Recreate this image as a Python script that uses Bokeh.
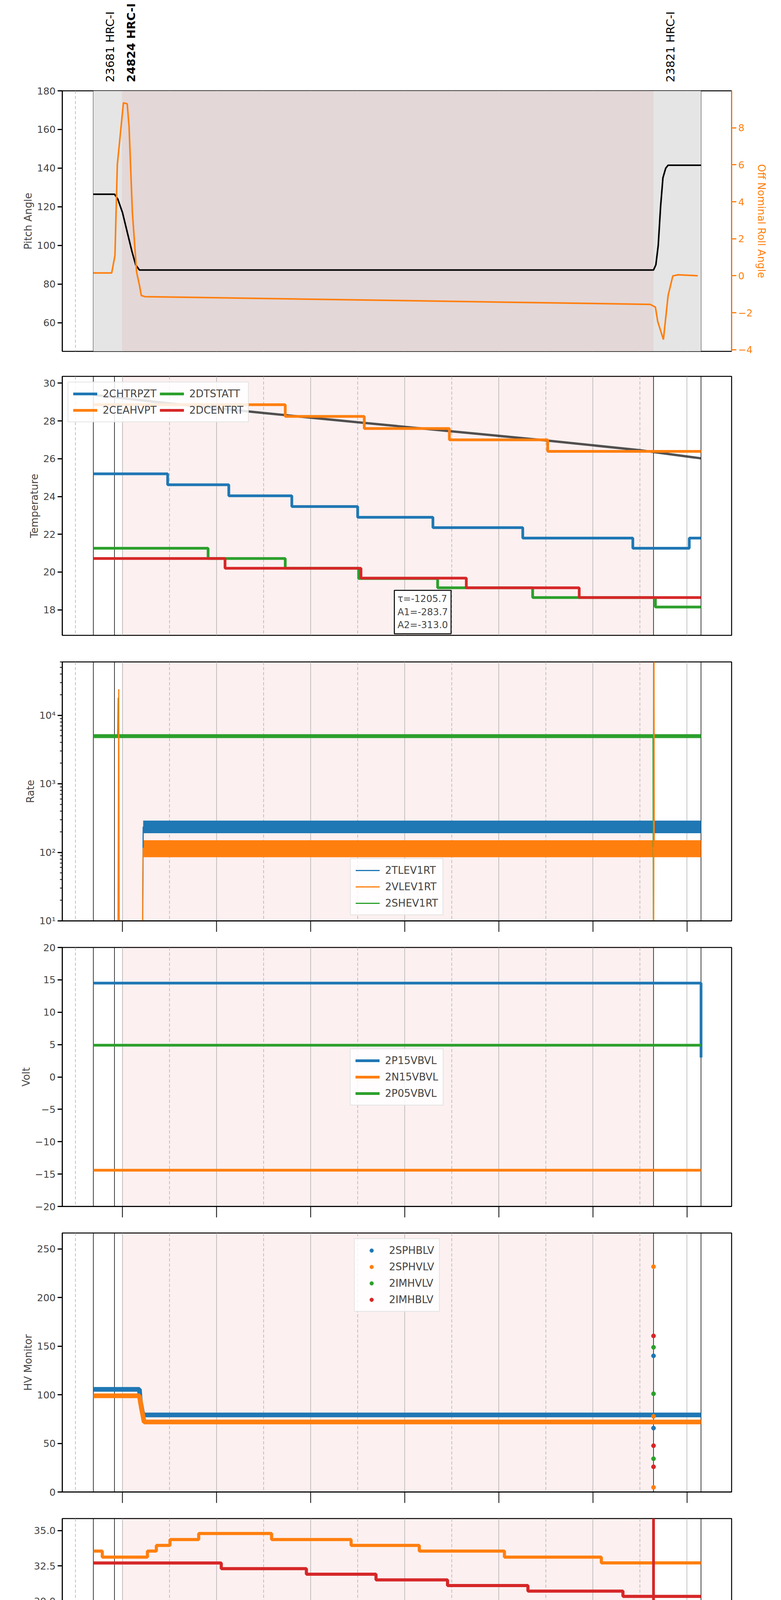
import math
from bokeh.plotting import figure
from bokeh.layouts import column
from bokeh.models import (Range1d, LinearAxis, Span, BoxAnnotation, Label, FixedTicker,
                          Legend, LegendItem)
from bokeh.core.properties import value
from bokeh.embed import file_html
from bokeh.resources import INLINE

FONT = "DejaVu Sans"
BLUE, ORANGE, GREEN, RED = "#1f77b4", "#ff7f0e", "#2ca02c", "#d62728"

# ---- time markers (hours of 2021-01-15) ----
obs_lines = [3.38, 3.83, 15.29, 16.30]
obs_labels = ["23681 HRC-I", "24824 HRC-I", "23821 HRC-I"]
obs_label_x = [3.38, 3.83, 15.29]
obs_label_style = ["normal", "bold", "normal"]
pink_span = [3.99, 15.29]
gray_span = [3.38, 16.30]
even_hours = [4, 6, 8, 10, 12, 14, 16]
odd_hours = [3, 5, 7, 9, 11, 13, 15]

# ---- panel 1: pitch / roll ----
pitch_t = [3.38, 3.83, 3.90, 4.00, 4.10, 4.20, 4.28, 4.36, 15.29, 15.34, 15.39, 15.44, 15.49, 15.55, 15.60, 16.30]
pitch_v = [126.5, 126.5, 124, 117, 107, 97, 90, 87.3, 87.3, 90, 100, 120, 135, 140, 141.5, 141.5]
roll_t = [3.38, 3.77, 3.84, 3.89, 4.02, 4.10, 4.14, 4.21, 4.30, 4.36, 4.40, 4.48, 15.22, 15.33, 15.38, 15.50, 15.60, 15.70, 15.81, 16.23]
roll_v = [0.15, 0.15, 1.1, 6.0, 9.35, 9.3, 8.06, 3.43, 0.2, -0.5, -1.07, -1.13, -1.55, -1.7, -2.48, -3.45, -1.07, -0.01, 0.05, 0.0]

# ---- panel 2: temperatures ----
fit_t = [3.38, 5, 7, 9, 11, 13, 15, 16.3]
fit_v = [29.38, 28.93, 28.42, 27.93, 27.45, 26.97, 26.45, 26.02]
chtrpzt_t = [3.38, 4.96, 6.26, 7.60, 9.00, 10.60, 12.51, 14.85, 16.05]
chtrpzt_v = [25.2, 24.62, 24.04, 23.47, 22.9, 22.35, 21.8, 21.26, 21.8]
ceahvpt_t = [3.38, 7.46, 9.14, 10.95, 13.04]
ceahvpt_v = [28.86, 28.24, 27.6, 27.0, 26.39]
dtstatt_t = [3.38, 5.82, 7.46, 9.02, 10.70, 12.72, 15.33]
dtstatt_v = [21.26, 20.72, 20.2, 19.66, 19.17, 18.65, 18.15]
dcentrt_t = [3.38, 6.18, 9.07, 11.31, 13.71]
dcentrt_v = [20.72, 20.2, 19.68, 19.17, 18.65]
fit_text = "τ=-1205.7\nA1=-283.7\nA2=-313.0"

# ---- panel 3: rates ----
rate_ticks = [10, 100, 1000, 10000]
rate_tick_labels = ["10¹", "10²", "10³", "10⁴"]
shev_band_t = [3.38, 16.30]
shev_lo = [4650, 4650]; shev_hi = [5300, 5300]
rate_band_t = [4.44, 16.30]
tlev_lo = [190, 190]; tlev_hi = [290, 290]
vlev_lo = [85, 85]; vlev_hi = [150, 150]
tlev_t = [4.42, 4.44, 16.30]; tlev_v = [1, 235, 235]
vlev_t = [3.90, 3.92, 3.93, 3.94, 4.42, 4.44, 15.29, 15.29, 15.30, 15.305, 16.30]
vlev_v = [1, 24000, 10, 1, 1, 115, 115, 1, 60000, 115, 115]
shev_t = [3.38, 3.90, 3.91, 3.92, 15.28, 15.29, 15.295, 15.30, 16.30]
shev_v = [4900, 4900, 18000, 4900, 4900, 1, 50000, 4900, 4900]

# ---- panel 4: voltages ----
p15_t = [3.38, 16.30, 16.30]; p15_v = [14.5, 14.5, 3.0]
n15_t = [3.38, 16.30]; n15_v = [-14.4, -14.4]
p05_t = [3.38, 16.30]; p05_v = [4.9, 4.9]

# ---- panel 5: HV monitor ----
sphblv_t = [3.38, 4.36, 4.38, 4.40, 4.42, 4.44, 16.30]
sphblv_v = [105.5, 105.5, 93, 88, 83, 79.2, 79.2]
sphvlv_t = [3.38, 4.36, 4.38, 4.40, 4.42, 4.44, 4.46, 16.30]
sphvlv_v = [98.9, 98.9, 93, 87, 82, 77, 72, 72]
out_t = 15.29
sphblv_out = [140, 65.7]
sphvlv_out = [231.7, 77.8, 4.8]
imhvlv_out = [148.8, 101, 34.2]
imhblv_out = [160.5, 47.6, 25.9]

# ---- panel 6: detector temps ----
spinatm_t = [3.38, 10.65, 14.80]; spinatm_v = [19.6, 18.95, 18.28]
sphvatm_t = [3.38, 3.57, 4.53, 4.72, 5.01, 5.62, 7.17, 8.86, 10.31, 12.12, 14.18]
sphvatm_v = [33.55, 33.12, 33.55, 33.95, 34.37, 34.8, 34.37, 33.95, 33.55, 33.12, 32.71]
iminatm_t = [3.38, 6.85, 9.69, 12.65]; iminatm_v = [20.98, 20.27, 19.6, 18.94]
imhvatm_t = [3.38, 6.10, 7.91, 9.39, 10.91, 12.62, 14.64]
imhvatm_v = [32.7, 32.3, 31.9, 31.5, 31.1, 30.7, 30.33]

# ---- panel 7: FEA temps ----
fhtrmzt_t = [3.38, 4.29, 5.26, 6.23, 7.28, 8.49, 9.90, 11.61, 13.95]
fhtrmzt_v = [24.05, 23.47, 22.9, 22.37, 21.81, 21.27, 20.74, 20.2, 19.68]
fradpyt_t = [3.38, 4.21, 4.66, 5.34, 6.20, 7.19, 8.31, 9.64, 11.31, 13.66, 15.70, 16.15]
fradpyt_v = [19.15, 18.65, 18.14, 17.64, 17.15, 16.66, 16.17, 15.71, 15.22, 14.76, 15.22, 15.71]
fepratm_t = [3.38, 5.22, 6.77, 8.49, 10.68, 13.84]
fepratm_v = [25.39, 24.62, 23.87, 23.13, 22.4, 21.68]
fe00atm_t = [3.38, 3.50, 4.77, 5.46, 6.23, 6.98, 7.80, 8.68, 9.80, 11.02, 12.40, 14.37, 16.23]
fe00atm_v = [23.6, 23.31, 22.99, 22.65, 22.33, 22.0, 21.7, 21.42, 21.09, 20.77, 20.47, 20.17, 20.45]
spike_t = [4.87, 5.09, 5.40, 5.78, 5.84, 5.91, 6.10, 6.41, 6.45, 6.61, 6.96, 7.09, 7.17, 7.32, 8.02, 8.28,
           8.89, 9.16, 9.21, 9.32, 9.55, 9.80, 9.91, 10.36, 10.55, 10.84, 11.00, 11.34, 11.45, 11.55, 11.63,
           11.74, 12.02, 12.46, 13.12, 13.32, 13.39, 13.52, 13.66, 13.77, 13.96, 14.09, 14.21, 14.30, 14.40,
           14.98, 15.28]
spike_lo = [22.0, 22.3, 22.99, 20.47, 22.65, 21.7, 22.33, 22.33, 21.9, 22.33, 21.1, 22.0, 21.1, 22.0, 21.7, 21.7,
            21.42, 21.42, 20.8, 20.8, 20.8, 21.09, 20.5, 20.8, 21.09, 19.2, 20.5, 20.5, 20.77, 19.5, 20.77,
            20.77, 19.8, 20.47, 20.47, 20.2, 20.47, 18.35, 19.8, 20.47, 20.47, 19.5, 20.2, 20.47, 20.17,
            20.17, 19.5]
spike_hi = [22.99, 22.99, 23.3, 22.65, 23.3, 22.65, 23.3, 23.3, 22.33, 23.3, 22.0, 22.65, 22.0, 22.65, 22.35, 22.0,
            22.0, 22.35, 21.42, 21.42, 21.09, 21.7, 21.09, 21.09, 21.7, 21.09, 21.09, 21.09, 22.35, 20.77, 21.4,
            21.4, 20.77, 21.1, 20.8, 20.47, 20.8, 20.47, 20.47, 21.1, 20.8, 20.47, 20.47, 20.8, 21.45,
            21.1, 20.8]

W = 1984
XR = Range1d(2.72, 16.95)


def style_axis(ax, size="25px"):
    ax.major_label_text_font = FONT
    ax.major_label_text_font_size = size
    ax.axis_label_text_font = FONT
    ax.axis_label_text_font_style = "normal"
    ax.axis_label_text_font_size = "26px"


def make_fig(ylabel, yr, height, top, bottom, log=False):
    p = figure(width=W, height=height, x_range=XR, y_range=yr, output_backend="svg",
               toolbar_location=None, y_axis_type="log" if log else "linear",
               min_border_left=159, min_border_right=111, min_border_top=top, min_border_bottom=bottom)
    p.outline_line_color = "black"
    p.outline_line_width = 2.5
    p.xgrid.visible = False
    p.ygrid.visible = False
    for ax in p.yaxis:
        style_axis(ax)
        ax.axis_label = ylabel
        ax.major_tick_out = 12
        ax.major_tick_in = 0
        ax.major_tick_line_width = 3
        ax.minor_tick_out = 6 if log else 0
        ax.minor_tick_in = 0
        ax.minor_tick_line_width = 2
        ax.axis_line_width = 2.5
    xa = p.xaxis[0]
    style_axis(xa)
    xa.ticker = FixedTicker(ticks=even_hours)
    xa.major_tick_out = 28
    xa.major_tick_in = 0
    xa.major_tick_line_width = 2
    xa.minor_tick_out = 0
    xa.axis_line_width = 2.5
    xa.major_label_overrides = {h: "" for h in even_hours}
    p.add_layout(BoxAnnotation(left=pink_span[0], right=pink_span[1], fill_color=RED,
                               fill_alpha=0.07, line_alpha=0, level="underlay"))
    for h in even_hours:
        p.add_layout(Span(location=h, dimension="height", line_color="#b0b0b0",
                          line_width=1.5, level="underlay"))
    for h in odd_hours:
        p.add_layout(Span(location=h, dimension="height", line_color="#b0b0b0",
                          line_width=1.5, line_dash="8 5", level="underlay"))
    for h in obs_lines:
        p.add_layout(Span(location=h, dimension="height", line_color="black",
                          line_width=1.5, level="underlay"))
    return p


def steps(p, t, v, color, width, end=16.30):
    xs = list(t) + [end]
    ys = list(v) + [v[-1]]
    return p.step(xs, ys, mode="after", line_color=color, line_width=width)


def legend(items, loc, ncols=1):
    return Legend(items=items, location=loc, ncols=ncols, label_text_font=FONT,
                  label_text_font_size="26px", border_line_color="#cccccc", border_line_width=2,
                  background_fill_alpha=0.85, glyph_width=62, glyph_height=24,
                  label_height=34, spacing=8, padding=12, margin=14, label_standoff=14)


figs = []

# ---- header with observation labels ----
p0 = figure(width=W, height=216, x_range=XR, y_range=Range1d(0, 1), output_backend="svg",
            toolbar_location=None, min_border_left=159, min_border_right=111,
            min_border_top=0, min_border_bottom=0)
p0.axis.visible = False
p0.grid.visible = False
p0.outline_line_color = None
p0.text(x=obs_label_x, y=[0, 0, 0], text=obs_labels, angle=math.pi / 2,
        x_offset=26, y_offset=-6, text_align="left", text_baseline="top",
        text_font=value(FONT), text_font_size="29px",
        text_font_style=obs_label_style)
figs.append(p0)

# ---- panel 1 ----
p1 = make_fig("Pitch Angle", Range1d(45.2, 180), 715, 16, 32)
p1.add_layout(BoxAnnotation(left=gray_span[0], right=gray_span[1], fill_color="#e5e5e5",
                            fill_alpha=1.0, line_alpha=0, level="underlay"))
p1.add_layout(BoxAnnotation(left=pink_span[0], right=pink_span[1], fill_color=RED,
                            fill_alpha=0.07, line_alpha=0, level="underlay"))
p1.yaxis.ticker = FixedTicker(ticks=[60, 80, 100, 120, 140, 160, 180])
p1.xaxis.visible = False
p1.extra_y_ranges = {"roll": Range1d(-4.09, 10.0)}
rax = LinearAxis(y_range_name="roll", axis_label="Off Nominal Roll Angle",
                 ticker=FixedTicker(ticks=[-4, -2, 0, 2, 4, 6, 8]))
style_axis(rax)
rax.axis_label_text_color = ORANGE
rax.major_label_text_color = ORANGE
rax.major_tick_line_color = ORANGE
rax.major_tick_out = 12
rax.major_tick_in = 0
rax.major_tick_line_width = 3
rax.minor_tick_out = 0
rax.axis_line_color = ORANGE
rax.axis_line_width = 2.5
p1.add_layout(rax, "right")
p1.line(pitch_t, pitch_v, line_color="black", line_width=4)
p1.line(roll_t, roll_v, line_color=ORANGE, line_width=4, y_range_name="roll")
figs.append(p1)

# ---- panel 2 ----
p2 = make_fig("Temperature", Range1d(16.65, 30.36), 731, 32, 36)
p2.yaxis.ticker = FixedTicker(ticks=[18, 20, 22, 24, 26, 28, 30])
p2.xaxis.visible = False
p2.line(fit_t, fit_v, line_color="#333333", line_alpha=0.85, line_width=6)
r_a = steps(p2, chtrpzt_t, chtrpzt_v, BLUE, 7)
r_b = steps(p2, ceahvpt_t, ceahvpt_v, ORANGE, 7)
r_c = steps(p2, dtstatt_t, dtstatt_v, GREEN, 7)
r_d = steps(p2, dcentrt_t, dcentrt_v, RED, 7)
p2.add_layout(legend([LegendItem(label="2CHTRPZT", renderers=[r_a]),
                      LegendItem(label="2CEAHVPT", renderers=[r_b]),
                      LegendItem(label="2DTSTATT", renderers=[r_c]),
                      LegendItem(label="2DCENTRT", renderers=[r_d])], "top_left", ncols=2))
p2.add_layout(Label(x=9.78, y=16.65, y_offset=4, text=fit_text, text_align="left",
                    text_baseline="bottom", text_font=FONT, text_font_size="24px",
                    border_line_color="black", border_line_width=2.5,
                    background_fill_color="white", padding=8))
figs.append(p2)

# ---- panel 3 ----
p3 = make_fig("Rate", Range1d(10, 60000), 731, 32, 36, log=True)
p3.yaxis.ticker.desired_num_ticks = 4
p3.yaxis.major_label_overrides = dict(zip(rate_ticks, rate_tick_labels))
p3.varea(shev_band_t, shev_lo, shev_hi, fill_color=GREEN)
p3.varea(rate_band_t, tlev_lo, tlev_hi, fill_color=BLUE)
p3.varea(rate_band_t, vlev_lo, vlev_hi, fill_color=ORANGE)
g1 = p3.line(shev_t, shev_v, line_color=GREEN, line_width=3)
b1 = p3.line(tlev_t, tlev_v, line_color=BLUE, line_width=3)
o1 = p3.line(vlev_t, vlev_v, line_color=ORANGE, line_width=3)
p3.add_layout(legend([LegendItem(label="2TLEV1RT", renderers=[b1]),
                      LegendItem(label="2VLEV1RT", renderers=[o1]),
                      LegendItem(label="2SHEV1RT", renderers=[g1])], "bottom_center"))
figs.append(p3)

# ---- panel 4 ----
p4 = make_fig("Volt", Range1d(-20, 20), 731, 32, 36)
p4.yaxis.ticker = FixedTicker(ticks=[-20, -15, -10, -5, 0, 5, 10, 15, 20])
v1 = p4.line(p15_t, p15_v, line_color=BLUE, line_width=7)
v2 = p4.line(n15_t, n15_v, line_color=ORANGE, line_width=7)
v3 = p4.line(p05_t, p05_v, line_color=GREEN, line_width=7)
p4.add_layout(legend([LegendItem(label="2P15VBVL", renderers=[v1]),
                      LegendItem(label="2N15VBVL", renderers=[v2]),
                      LegendItem(label="2P05VBVL", renderers=[v3])], "center"))
figs.append(p4)

# ---- panel 5 ----
p5 = make_fig("HV Monitor", Range1d(0, 266.3), 731, 32, 36)
p5.yaxis.ticker = FixedTicker(ticks=[0, 50, 100, 150, 200, 250])
p5.line(sphblv_t, sphblv_v, line_color=BLUE, line_width=12)
p5.line(sphvlv_t, sphvlv_v, line_color=ORANGE, line_width=12)
s1 = p5.scatter([out_t] * len(sphblv_out), sphblv_out, size=11, color=BLUE)
s2 = p5.scatter([out_t] * len(sphvlv_out), sphvlv_out, size=11, color=ORANGE)
s3 = p5.scatter([out_t] * len(imhvlv_out), imhvlv_out, size=11, color=GREEN)
s4 = p5.scatter([out_t] * len(imhblv_out), imhblv_out, size=11, color=RED)
p5.add_layout(legend([LegendItem(label="2SPHBLV", renderers=[s1]),
                      LegendItem(label="2SPHVLV", renderers=[s2]),
                      LegendItem(label="2IMHVLV", renderers=[s3]),
                      LegendItem(label="2IMHBLV", renderers=[s4])], "top_center"))
figs.append(p5)

# ---- panel 6 ----
p6 = make_fig("Detector Temp", Range1d(17.45, 35.86), 731, 32, 36)
p6.yaxis.ticker = FixedTicker(ticks=[17.5, 20, 22.5, 25, 27.5, 30, 32.5, 35])
p6.yaxis.major_label_overrides = {17.5: "17.5", 20: "20.0", 22.5: "22.5", 25: "25.0",
                                  27.5: "27.5", 30: "30.0", 32.5: "32.5", 35: "35.0"}
d1 = steps(p6, spinatm_t, spinatm_v, BLUE, 8)
d2 = steps(p6, sphvatm_t, sphvatm_v, ORANGE, 8)
d3 = steps(p6, iminatm_t, iminatm_v, GREEN, 8)
d4 = steps(p6, imhvatm_t, imhvatm_v, RED, 8)
p6.add_layout(Span(location=out_t, dimension="height", line_color=RED, line_width=7))
p6.add_layout(legend([LegendItem(label="2SPINATM", renderers=[d1]),
                      LegendItem(label="2SPHVATM", renderers=[d2]),
                      LegendItem(label="2IMINATM", renderers=[d3]),
                      LegendItem(label="2IMHVATM", renderers=[d4])], "center"))
figs.append(p6)

# ---- panel 7 ----
p7 = make_fig("FEA Temp", Range1d(13.73, 26.13), 790, 32, 100)
p7.yaxis.ticker = FixedTicker(ticks=[14, 16, 18, 20, 22, 24, 26])
f3 = steps(p7, fepratm_t, fepratm_v, GREEN, 8)
f1 = steps(p7, fhtrmzt_t, fhtrmzt_v, BLUE, 8)
f2 = steps(p7, fradpyt_t, fradpyt_v, ORANGE, 8)
f4 = steps(p7, fe00atm_t, fe00atm_v, RED, 8)
p7.segment(x0=spike_t, y0=spike_lo, x1=spike_t, y1=spike_hi, line_color=RED, line_width=5)
p7.add_layout(Span(location=out_t, dimension="height", line_color=RED, line_width=7))
p7.add_layout(legend([LegendItem(label="2FHTRMZT", renderers=[f1]),
                      LegendItem(label="2FRADPYT", renderers=[f2]),
                      LegendItem(label="2FEPRATM", renderers=[f3]),
                      LegendItem(label="2FE00ATM", renderers=[f4])], "bottom_left"))
xa = p7.xaxis[0]
xa.ticker = FixedTicker(ticks=odd_hours)
xa.major_label_overrides = {h: "%02dh" % h for h in odd_hours}
xa.major_label_text_font_size = "15px"
xa.major_tick_out = 0
xa.major_label_standoff = 6
xb = LinearAxis(ticker=FixedTicker(ticks=even_hours),
                major_label_overrides={h: "%02dh" % h for h in even_hours})
style_axis(xb, "28px")
xb.axis_line_color = None
xb.major_tick_in = 26
xb.major_tick_out = 4
xb.major_tick_line_width = 2
xb.minor_tick_out = 0
xb.minor_tick_in = 0
xb.major_label_standoff = 8
xb.axis_label = "2021-01-15 (015)"
xb.axis_label_text_font_size = "30px"
xb.axis_label_standoff = 4
p7.add_layout(xb, "below")
figs.append(p7)

layout = column(*figs, spacing=0)
open("out.html", "w").write(file_html(layout, INLINE))
